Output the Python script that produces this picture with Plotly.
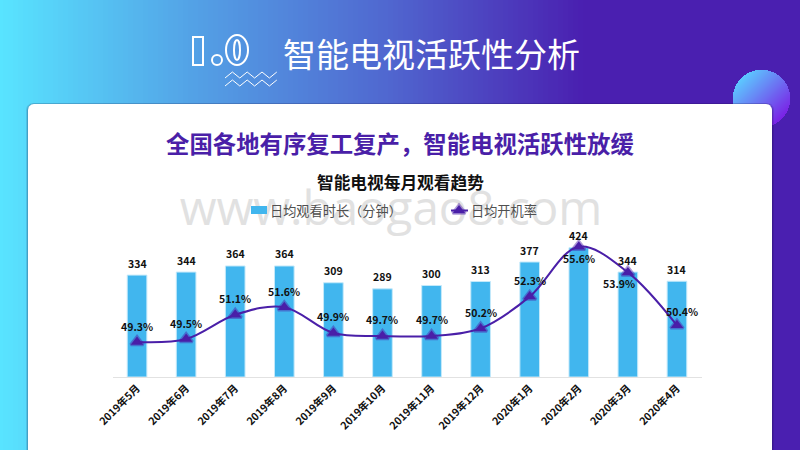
import numpy as np
import plotly.graph_objects as go

months = ["2019年5月", "2019年6月", "2019年7月", "2019年8月", "2019年9月", "2019年10月",
          "2019年11月", "2019年12月", "2020年1月", "2020年2月", "2020年3月", "2020年4月"]
watch_minutes = [334, 344, 364, 364, 309, 289, 300, 313, 377, 424, 344, 314]
open_rate = [49.3, 49.5, 51.1, 51.6, 49.9, 49.7, 49.7, 50.2, 52.3, 55.6, 53.9, 50.4]

FONT = "Noto Sans CJK SC"
PURPLE = "#4a1fa8"
BLUE = "#41b6ee"
TRIANGLE = dict(symbol="triangle-up", size=11, color=PURPLE,
                line=dict(color="rgba(74,31,168,0.45)", width=3))


def rounded_box(x0, y0, x1, y1, r):
    t = np.linspace(0, np.pi / 2, 8)
    xs = np.concatenate([x0 + r - r * np.cos(t), x1 - r + r * np.sin(t), [x1, x0]])
    ys = np.concatenate([y0 + r - r * np.sin(t), y0 + r - r * np.cos(t), [y1, y1]])
    return list(xs) + [xs[0]], list(ys) + [ys[0]]


def add_box(fig, box, color):
    bx, by = rounded_box(*box)
    fig.add_trace(go.Scatter(x=bx, y=by, mode="lines", line=dict(width=0), fill="toself",
                             fillcolor=color, hoverinfo="skip", showlegend=False,
                             xaxis="x", yaxis="y"))


fig = go.Figure()

# background gradient, pixel coords on the first axes
gx = np.linspace(0, 800, 161)
fig.add_trace(go.Heatmap(x=gx, y=[-10, 460], z=[gx, gx], showscale=False, hoverinfo="skip",
                         colorscale=[[0, "#58e4ff"], [0.25, "#539fe5"], [0.48, "#5068d0"],
                                     [0.73, "#4a1fb0"], [1, "#4a1fb0"]],
                         xaxis="x", yaxis="y"))

# corner circle, diagonal gradient with everything outside the disc blanked
cx = np.arange(732.5, 791.5, 1.0)
cy = np.arange(69.0, 128.0, 1.0)
xx, yy = np.meshgrid(cx, cy)
disc = (xx - cx.mean()) + (yy - cy.mean())
disc = np.where((xx - cx.mean()) ** 2 + (yy - cy.mean()) ** 2 <= 28.7 ** 2, disc, np.nan)
fig.add_trace(go.Heatmap(x=cx, y=cy, z=disc, showscale=False, hoverinfo="skip",
                         colorscale=[[0, "#5cc8ff"], [1, "#7a22e6"]],
                         xaxis="x", yaxis="y"))

# white card with a thin shadow
add_box(fig, (26, 103, 774, 470, 7), "rgba(20,10,60,0.12)")
add_box(fig, (27, 103.5, 773, 470, 7), "rgba(20,10,60,0.18)")
add_box(fig, (28, 104, 772, 470, 6), "white")

# watermark sits under the chart
fig.add_trace(go.Scatter(x=[391], y=[213], mode="text", text=["www.baogao8.com"],
                         textfont=dict(family="Open Sans", size=47.5, color="#e1e1e1"),
                         textposition="middle center", hoverinfo="skip", showlegend=False,
                         xaxis="x", yaxis="y"))

# legend key triangle, the plotly legend can't place its keys this tightly
fig.add_trace(go.Scatter(x=[459], y=[210.5], mode="markers", marker=TRIANGLE, hoverinfo="skip",
                         showlegend=False, xaxis="x", yaxis="y"))

fig.add_trace(go.Bar(x=months, y=watch_minutes, name="日均观看时长（分钟）", width=0.4,
                     marker=dict(color=BLUE, line=dict(color="#c4e9fa", width=1)),
                     showlegend=False, xaxis="x2", yaxis="y2"))
fig.add_trace(go.Scatter(x=months, y=open_rate, name="日均开机率", mode="lines+markers",
                         line=dict(color=PURPLE, width=2, shape="spline", smoothing=1.0),
                         marker=TRIANGLE, showlegend=False, xaxis="x2", yaxis="y3"))

annotations = [
    dict(text="智能电视活跃性分析", x=431, y=53, xref="x", yref="y", showarrow=False,
         font=dict(family=FONT, size=33, color="white")),
    dict(text="全国各地有序复工复产，智能电视活跃性放缓", x=400, y=143, xref="x", yref="y",
         showarrow=False, font=dict(family=FONT, size=23.4, color=PURPLE, weight="bold")),
    dict(text="智能电视每月观看趋势", x=400, y=182, xref="x", yref="y", showarrow=False,
         font=dict(family=FONT, size=16.7, color="#111111", weight="bold")),
    dict(text="日均观看时长（分钟）", x=268, y=210, xref="x", yref="y", showarrow=False,
         xanchor="left", font=dict(family=FONT, size=13.2, color="#505050")),
    dict(text="日均开机率", x=469, y=210, xref="x", yref="y", showarrow=False,
         xanchor="left", font=dict(family=FONT, size=13.2, color="#505050")),
]

for m, v in zip(months, watch_minutes):
    annotations.append(dict(text=str(v), x=m, y=v, xref="x2", yref="y2", showarrow=False,
                            yshift=12, font=dict(family=FONT, size=10.5, color="#111111", weight="bold")))

# rate labels: most sit above the marker, the last three are nudged
rate_shift = {9: (0, -12), 10: (-9, -11), 11: (5, 14)}
for i, (m, v) in enumerate(zip(months, open_rate)):
    dx, dy = rate_shift.get(i, (0, 16))
    annotations.append(dict(text=f"{v}%", x=m, y=v, xref="x2", yref="y3", showarrow=False,
                            xshift=dx, yshift=dy,
                            font=dict(family=FONT, size=10.5, color="#111111", weight="bold")))

white_line = dict(color="white", width=2)
shapes = [
    dict(type="rect", x0=193, x1=203, y0=37, y1=65, line=white_line),
    dict(type="circle", x0=212, x1=222, y0=55, y1=65, line=white_line),
    dict(type="circle", x0=226, x1=248, y0=35, y1=65, line=white_line),
    dict(type="circle", x0=234, x1=240, y0=40, y1=60, line=white_line),
    # legend keys
    dict(type="rect", x0=251, x1=267, y0=206, y1=214, fillcolor=BLUE, line=dict(width=0)),
    dict(type="line", x0=451, x1=468, y0=210.5, y1=210.5, line=dict(color=PURPLE, width=2)),
]
for y_top in (72, 80):
    pts = [(225 + 7.4 * k, y_top + (6 if k % 2 == 0 else 0)) for k in range(8)]
    path = "M" + " L".join(f"{a},{b}" for a, b in pts)
    shapes.append(dict(type="path", path=path, line=dict(color="white", width=1)))
for s in shapes:
    s.update(xref="x", yref="y", layer="above")

fig.update_layout(
    width=800, height=450, margin=dict(l=0, r=0, t=0, b=0),
    paper_bgcolor="white", plot_bgcolor="rgba(0,0,0,0)",
    font=dict(family=FONT, color="#333333"),
    annotations=annotations, shapes=shapes, showlegend=False,
    xaxis=dict(domain=[0, 1], range=[0, 800], visible=False, fixedrange=True, automargin=False),
    yaxis=dict(domain=[0, 1], range=[450, 0], visible=False, fixedrange=True, automargin=False),
    xaxis2=dict(domain=[112.5 / 800, 701.5 / 800], anchor="y2", type="category", range=[-0.5, 11.5],
                automargin=False, showgrid=False, showline=True, linecolor="#e2e2e2", linewidth=1,
                ticks="", tickangle=-45,
                tickfont=dict(family=FONT, size=10.5, color="#111111", weight="bold")),
    yaxis2=dict(domain=[(450 - 377) / 450, (450 - 177) / 450], anchor="x2", range=[0, 655.7],
                automargin=False, visible=False, showgrid=False),
    yaxis3=dict(domain=[(450 - 377) / 450, (450 - 177) / 450], anchor="x2", overlaying="y2",
                automargin=False, range=[46.99, 60.2], visible=False, showgrid=False),
)

fig.write_html("out.html", config=dict(displayModeBar=False),
               post_script="document.body.style.margin='0';")
